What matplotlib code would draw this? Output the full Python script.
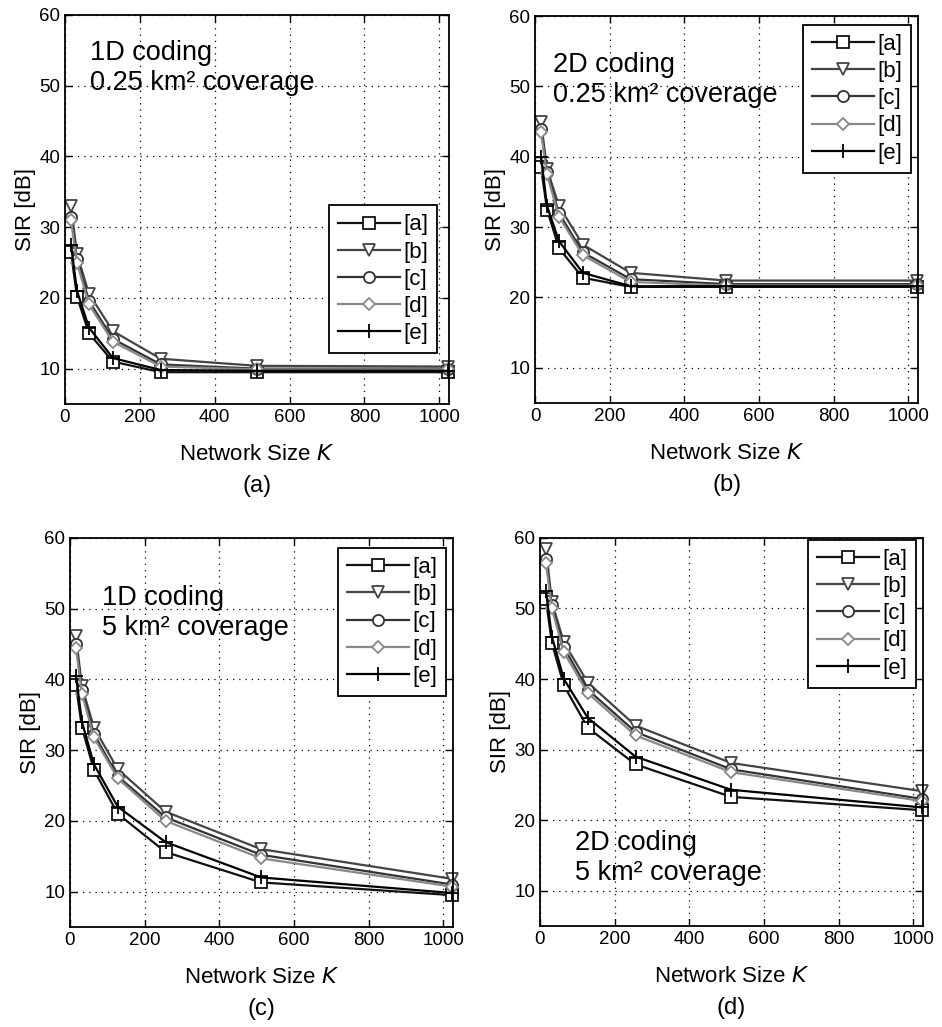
import matplotlib
matplotlib.use("Agg")
import matplotlib.pyplot as plt

plt.rcParams['font.family'] = ['Liberation Sans', 'DejaVu Sans']

# network sizes K
K = [16, 32, 64, 128, 256, 512, 1024]
labels = ['[a]', '[b]', '[c]', '[d]', '[e]']

# (a) 1D coding, 0.25 km^2
a_1d_small = [26.5, 20.2, 15.0, 11.0, 9.5, 9.5, 9.5]
b_1d_small = [33.0, 26.2, 20.6, 15.3, 11.4, 10.4, 10.3]
c_1d_small = [31.5, 25.5, 19.6, 14.2, 10.6, 10.0, 10.0]
d_1d_small = [31.0, 25.0, 19.1, 13.8, 10.3, 9.9, 9.9]
e_1d_small = [27.5, 21.0, 15.8, 11.5, 9.8, 9.7, 9.7]

# (b) 2D coding, 0.25 km^2
a_2d_small = [38.5, 32.5, 27.0, 22.8, 21.5, 21.5, 21.5]
b_2d_small = [45.0, 38.3, 33.0, 27.5, 23.5, 22.4, 22.4]
c_2d_small = [44.0, 37.8, 32.0, 26.4, 22.6, 21.9, 21.9]
d_2d_small = [43.5, 37.5, 31.5, 26.0, 22.2, 21.7, 21.7]
e_2d_small = [40.0, 33.0, 28.0, 23.5, 21.6, 21.6, 21.6]

# (c) 1D coding, 5 km^2
a_1d_large = [39.2, 33.2, 27.2, 21.0, 15.6, 11.3, 9.5]
b_1d_large = [46.1, 39.0, 33.2, 27.3, 21.3, 16.0, 11.8]
c_1d_large = [45.0, 38.5, 32.3, 26.3, 20.5, 15.2, 11.0]
d_1d_large = [44.5, 38.0, 31.8, 26.0, 20.0, 14.7, 10.7]
e_1d_large = [40.5, 34.0, 28.0, 22.0, 17.0, 12.0, 9.8]

# (d) 2D coding, 5 km^2
a_2d_large = [51.3, 45.1, 39.1, 33.1, 27.9, 23.3, 21.4]
b_2d_large = [58.5, 50.9, 45.2, 39.5, 33.4, 28.1, 24.1]
c_2d_large = [57.0, 50.5, 44.5, 38.5, 32.5, 27.2, 23.0]
d_2d_large = [56.5, 50.0, 43.8, 38.0, 32.0, 26.8, 22.7]
e_2d_large = [52.5, 46.0, 40.0, 34.5, 29.0, 24.3, 21.8]

colors = ['#111111', '#444444', '#333333', '#888888', '#000000']
markers = ['s', 'v', 'o', 'D', '+']
msizes = [8, 8, 8, 6, 10]

fig = plt.figure(figsize=(9.42, 10.27), dpi=100)

panels = [
    ([0.069, 0.6066, 0.4076, 0.3788], [a_1d_small, b_1d_small, c_1d_small, d_1d_small, e_1d_small],
     "1D coding\n0.25 km² coverage", (0.065, 0.935), ('lower right', (0.969, 0.131)), '(a)'),
    ([0.568, 0.6076, 0.4066, 0.3768], [a_2d_small, b_2d_small, c_2d_small, d_2d_small, e_2d_small],
     "2D coding\n0.25 km² coverage", (0.047, 0.907), ('upper right', (0.982, 0.977)), '(b)'),
    ([0.0743, 0.0974, 0.4066, 0.3788], [a_1d_large, b_1d_large, c_1d_large, d_1d_large, e_1d_large],
     "1D coding\n5 km² coverage", (0.084, 0.878), ('upper right', (0.982, 0.974)), '(c)'),
    ([0.5732, 0.0984, 0.4066, 0.3778], [a_2d_large, b_2d_large, c_2d_large, d_2d_large, e_2d_large],
     "2D coding\n5 km² coverage", (0.091, 0.248), ('upper right', (0.982, 0.995)), '(d)'),
]

for rect, series, note, note_pos, leg, cap in panels:
    ax = fig.add_axes(rect)
    for vals, lab, col, mk, ms in zip(series, labels, colors, markers, msizes):
        ax.plot(K, vals, color=col, marker=mk, markersize=ms, markerfacecolor='white',
                markeredgecolor=col, markeredgewidth=1.3, linewidth=1.6, label=lab, clip_on=False)

    ax.set_xlim(0, 1026)
    ax.set_ylim(5, 60)
    ax.set_xticks([0, 200, 400, 600, 800, 1000])
    ax.set_yticks([10, 20, 30, 40, 50, 60])
    ax.grid(True, color='black', linestyle=(0, (1, 4)), linewidth=0.9)
    ax.tick_params(direction='in', top=True, right=True, length=5, labelsize=13.5, width=1)
    for sp in ax.spines.values():
        sp.set_linewidth(1.3)
    ax.set_xlabel("Network Size $\\it{K}$", fontsize=16, labelpad=13)
    ax.set_ylabel("SIR [dB]", fontsize=16, labelpad=2)

    ax.text(note_pos[0], note_pos[1], note, transform=ax.transAxes, fontsize=19.5,
            va='top', ha='left', zorder=1,
            bbox=dict(facecolor='white', edgecolor='none', pad=1))

    lg = ax.legend(loc=leg[0], bbox_to_anchor=leg[1], borderaxespad=0, fontsize=16,
                   fancybox=False, framealpha=1, edgecolor='black', handlelength=2.8,
                   handletextpad=0.15, labelspacing=0.28, borderpad=0.4)
    lg.get_frame().set_linewidth(1.3)
    lg.set_zorder(5)

    pos = ax.get_position()
    fig.text(pos.x0 + pos.width / 2, pos.y0 - 0.08, cap, fontsize=17, ha='center', va='center')

fig.savefig("out.png", dpi=100)
